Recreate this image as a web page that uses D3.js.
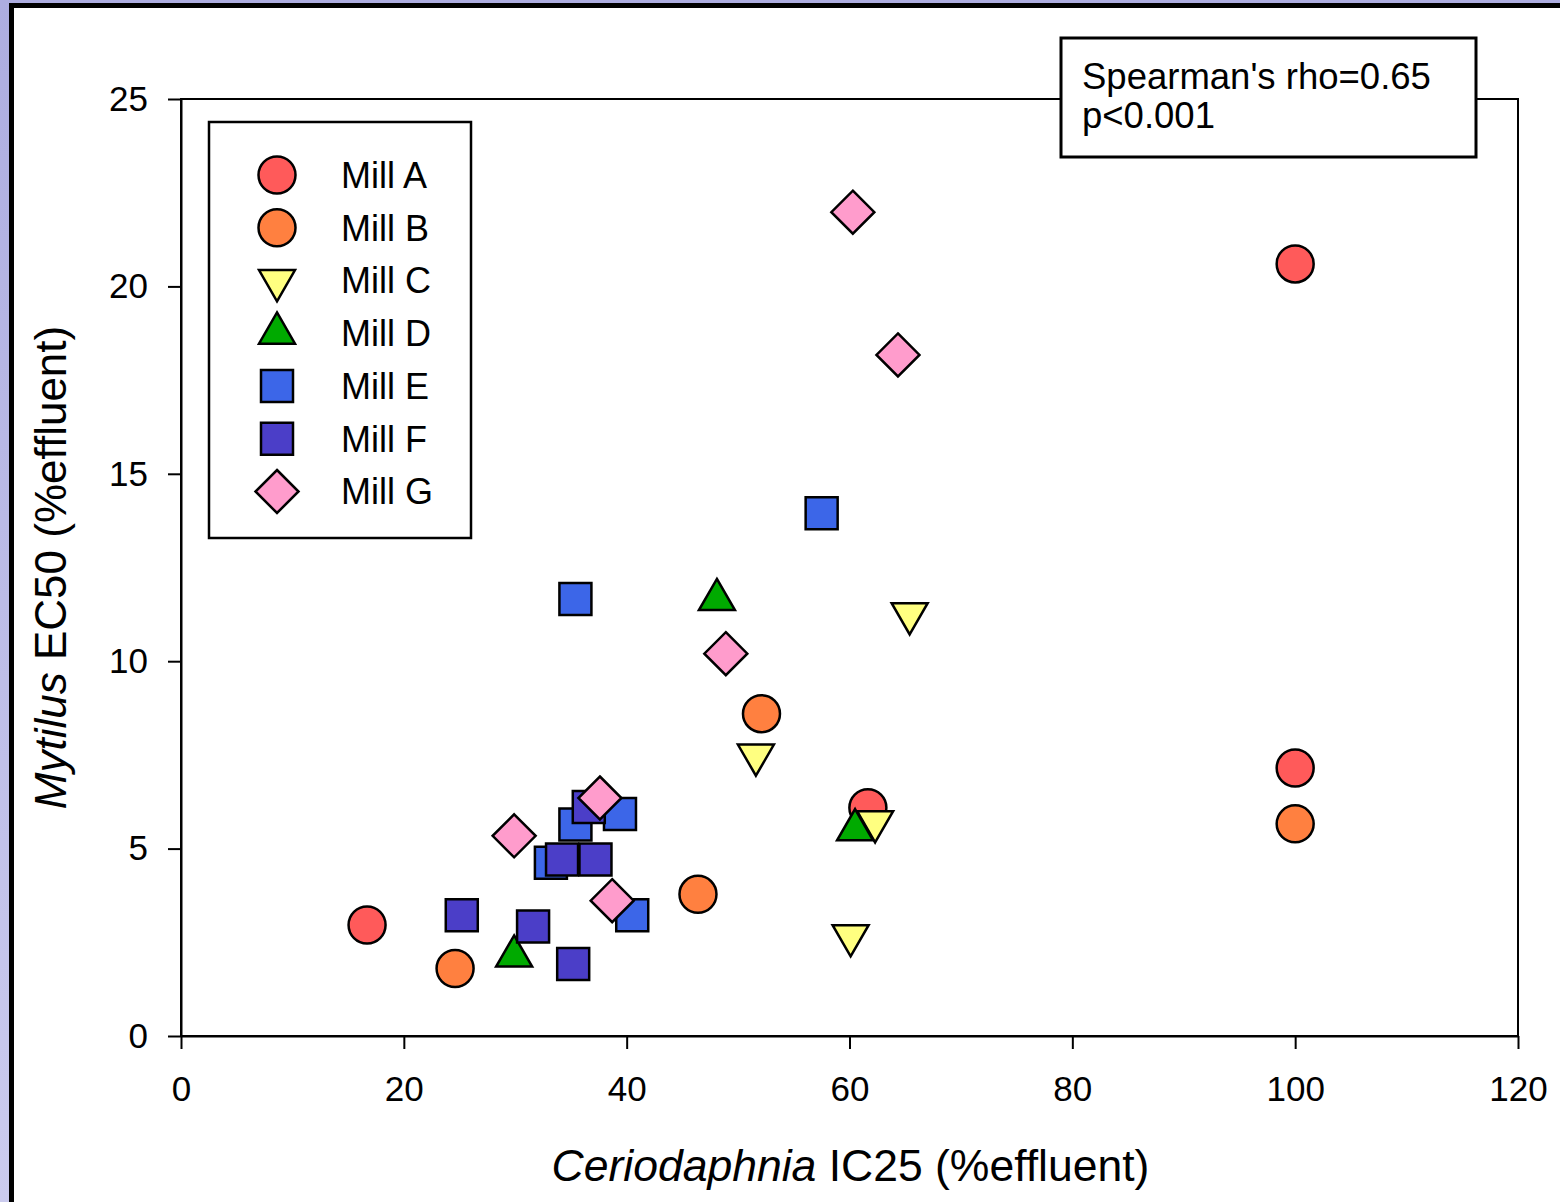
<!DOCTYPE html>
<html>
<head>
<meta charset="utf-8">
<script src="https://cdn.jsdelivr.net/npm/d3@7"></script>
<style>
  html, body { margin: 0; padding: 0; background: #fff; }
  svg { display: block; }
  text { font-family: "Liberation Sans", Arial, sans-serif; fill: #000; }
</style>
</head>
<body>
<svg id="chart" width="1560" height="1202"></svg>
<script>
// Ceriodaphnia IC25 (x) vs Mytilus EC50 (y), % effluent, by mill
const millA = [[16.7, 2.96], [61.65, 6.09], [100, 7.15], [100, 20.6]];
const millB = [[24.6, 1.8], [46.4, 3.78], [52.1, 8.6], [100, 5.66]];
const millC = [[51.6, 7.5], [60.1, 2.68], [62.3, 5.72], [65.4, 11.27]];
const millD = [[29.9, 2.13], [48.1, 11.64], [60.5, 5.5]];
const millE = [[33.2, 4.62], [35.4, 5.64], [35.4, 11.66], [39.4, 5.92], [40.5, 3.22], [57.5, 13.95]];
const millF = [[25.2, 3.22], [31.6, 2.92], [34.2, 4.71], [35.2, 1.92], [36.6, 6.11], [37.2, 4.71]];
const millG = [[29.9, 5.34], [37.6, 6.35], [38.7, 3.61], [48.9, 10.2], [60.3, 21.98], [64.35, 18.17]];

const millNames = ["Mill A", "Mill B", "Mill C", "Mill D", "Mill E", "Mill F", "Mill G"];
const xTicks = [0, 20, 40, 60, 80, 100, 120];
const yTicks = [0, 5, 10, 15, 20, 25];
const statLines = ["Spearman's rho=0.65", "p<0.001"];

// marker shapes (custom d3 symbol types, size = characteristic length)
const circleType = { draw(ctx, r) { ctx.moveTo(r, 0); ctx.arc(0, 0, r, 0, 2 * Math.PI); } };
const squareType = { draw(ctx, s) { const h = s / 2; ctx.rect(-h, -h, s, s); } };
const triUpType = { draw(ctx, s) {
  const R = s / Math.sqrt(3);
  ctx.moveTo(0, -R); ctx.lineTo(s / 2, R / 2); ctx.lineTo(-s / 2, R / 2); ctx.closePath(); } };
const triDownType = { draw(ctx, s) {
  const R = s / Math.sqrt(3);
  ctx.moveTo(0, R); ctx.lineTo(s / 2, -R / 2); ctx.lineTo(-s / 2, -R / 2); ctx.closePath(); } };
const diamondType = { draw(ctx, h) {
  ctx.moveTo(0, -h); ctx.lineTo(h, 0); ctx.lineTo(0, h); ctx.lineTo(-h, 0); ctx.closePath(); } };

const series = [
  { name: millNames[0], data: millA, type: circleType, size: 18.5, fill: "#ff5a5a" },
  { name: millNames[1], data: millB, type: circleType, size: 18.5, fill: "#ff8040" },
  { name: millNames[2], data: millC, type: triDownType, size: 36, fill: "#ffff80" },
  { name: millNames[3], data: millD, type: triUpType, size: 36, fill: "#00aa00" },
  { name: millNames[4], data: millE, type: squareType, size: 32, fill: "#3c66e8" },
  { name: millNames[5], data: millF, type: squareType, size: 32, fill: "#4b3ec8" },
  { name: millNames[6], data: millG, type: diamondType, size: 21.5, fill: "#ff9ccc" }
];

const svg = d3.select("#chart");

// page background and framed panel
const defs = svg.append("defs");
const grad = defs.append("linearGradient").attr("id", "bg").attr("x1", 0).attr("y1", 0).attr("x2", 0).attr("y2", 1);
grad.append("stop").attr("offset", "0%").attr("stop-color", "#adade0");
grad.append("stop").attr("offset", "100%").attr("stop-color", "#cbcbee");
svg.append("rect").attr("width", 1560).attr("height", 1202).attr("fill", "url(#bg)");
svg.append("rect").attr("x", 11.5).attr("y", 5.5).attr("width", 1600).attr("height", 1300)
  .attr("fill", "#fff").attr("stroke", "#000").attr("stroke-width", 5);

const plot = { left: 181, right: 1518, top: 99, bottom: 1036 };
const x = d3.scaleLinear().domain([0, 120]).range([plot.left, plot.right]);
const y = d3.scaleLinear().domain([0, 25]).range([plot.bottom, plot.top]);

// plot frame
svg.append("rect")
  .attr("x", plot.left).attr("y", plot.top)
  .attr("width", plot.right - plot.left).attr("height", plot.bottom - plot.top)
  .attr("fill", "none").attr("stroke", "#000").attr("stroke-width", 2);

// axes
const xAxis = svg.append("g").attr("transform", `translate(0,${plot.bottom})`)
  .call(d3.axisBottom(x).tickValues(xTicks).tickSizeInner(13).tickSizeOuter(0).tickPadding(27).tickFormat(d3.format("d")));
const yAxis = svg.append("g").attr("transform", `translate(${plot.left},0)`)
  .call(d3.axisLeft(y).tickValues(yTicks).tickSizeInner(13).tickSizeOuter(0).tickPadding(20).tickFormat(d3.format("d")));
[xAxis, yAxis].forEach(g => {
  g.select(".domain").attr("stroke", "#000").attr("stroke-width", 2);
  g.selectAll(".tick line").attr("stroke", "#000").attr("stroke-width", 2);
  g.selectAll(".tick text").attr("font-size", 35).attr("font-family", "Liberation Sans, Arial, sans-serif").attr("fill", "#000");
});

// axis titles
const xt = svg.append("text").attr("x", (plot.left + plot.right) / 2 + 1).attr("y", 1181)
  .attr("text-anchor", "middle").attr("font-size", 44.5);
xt.append("tspan").attr("font-style", "italic").text("Ceriodaphnia");
xt.append("tspan").text(" IC25 (%effluent)");

const yt = svg.append("text")
  .attr("transform", `translate(66,${(plot.top + plot.bottom) / 2}) rotate(-90)`)
  .attr("text-anchor", "middle").attr("font-size", 44);
yt.append("tspan").attr("font-style", "italic").text("Mytilus");
yt.append("tspan").text(" EC50 (%effluent)");

// points
series.forEach(s => {
  const sym = d3.symbol().type(s.type).size(s.size);
  svg.append("g").selectAll("path").data(s.data).join("path")
    .attr("d", sym)
    .attr("transform", d => `translate(${x(d[0])},${y(d[1])})`)
    .attr("fill", s.fill).attr("stroke", "#000").attr("stroke-width", 2.5)
    .attr("stroke-linejoin", "miter");
});

// legend
const legend = svg.append("g");
legend.append("rect").attr("x", 209).attr("y", 122).attr("width", 262).attr("height", 416)
  .attr("fill", "#fff").attr("stroke", "#000").attr("stroke-width", 2.5);
const rowY = d3.scalePoint().domain(millNames).range([175, 491.5]);
series.forEach(s => {
  const cy = rowY(s.name);
  legend.append("path").attr("d", d3.symbol().type(s.type).size(s.size)())
    .attr("transform", `translate(277,${cy})`)
    .attr("fill", s.fill).attr("stroke", "#000").attr("stroke-width", 2.5);
  legend.append("text").attr("x", 341).attr("y", cy).attr("dy", "0.36em")
    .attr("font-size", 36).text(s.name);
});

// statistics box
const stat = svg.append("g");
stat.append("rect").attr("x", 1061).attr("y", 38).attr("width", 415).attr("height", 119)
  .attr("fill", "#fff").attr("stroke", "#000").attr("stroke-width", 3);
stat.selectAll("text").data(statLines).join("text")
  .attr("x", 1082).attr("y", (d, i) => 89 + i * 39)
  .attr("font-size", 36.5).text(d => d);
</script>
</body>
</html>
